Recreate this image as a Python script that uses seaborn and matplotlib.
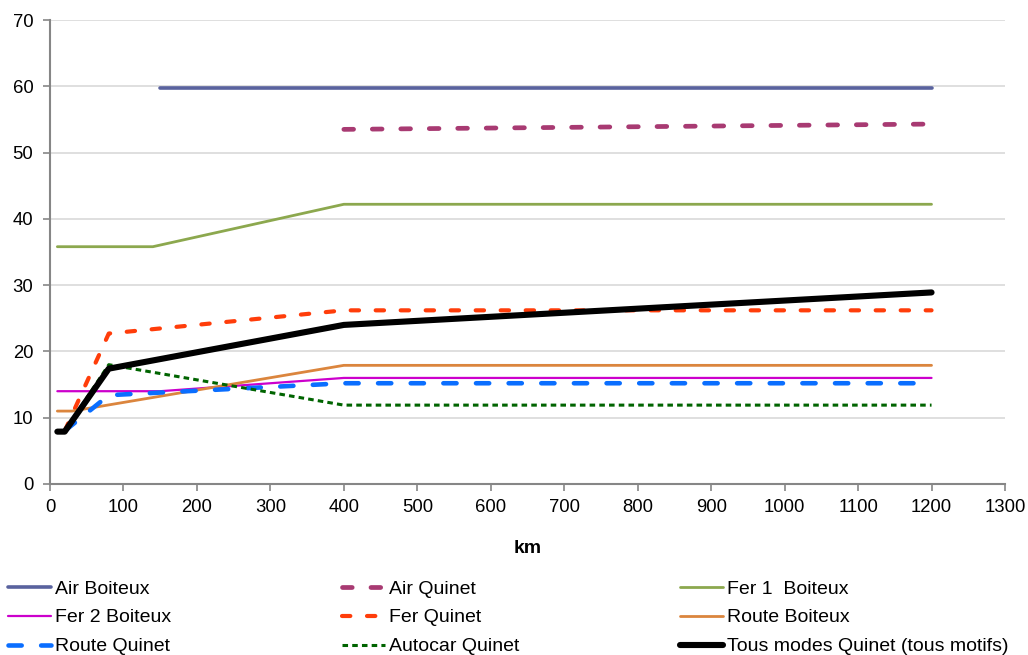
import matplotlib
matplotlib.use("Agg")
import matplotlib.pyplot as plt
import seaborn as sns

# --- dane (km -> wartość) ---
AIR_BOITEUX_X = [150, 400, 1200]
AIR_BOITEUX_Y = [59.8, 59.8, 59.8]
AIR_QUINET_X = [400, 1200]
AIR_QUINET_Y = [53.5, 54.3]
FER1_BOITEUX_X = [10, 140, 400, 1200]
FER1_BOITEUX_Y = [35.8, 35.8, 42.2, 42.2]
FER2_BOITEUX_X = [10, 150, 400, 1200]
FER2_BOITEUX_Y = [14.0, 14.0, 16.0, 16.0]
FER_QUINET_X = [20, 80, 400, 1200]
FER_QUINET_Y = [8.0, 22.7, 26.2, 26.2]
ROUTE_BOITEUX_X = [10, 30, 400, 1200]
ROUTE_BOITEUX_Y = [11.0, 11.0, 17.9, 17.9]
ROUTE_QUINET_X = [20, 80, 400, 1200]
ROUTE_QUINET_Y = [8.0, 13.4, 15.2, 15.2]
AUTOCAR_QUINET_X = [20, 80, 400, 1200]
AUTOCAR_QUINET_Y = [8.0, 18.0, 11.9, 11.9]
TOUS_MODES_X = [10, 20, 80, 400, 1200]
TOUS_MODES_Y = [7.9, 7.9, 17.4, 24.0, 28.9]

LABELS = ["Air Boiteux", "Air Quinet", "Fer 1  Boiteux", "Fer 2 Boiteux", "Fer Quinet",
          "Route Boiteux", "Route Quinet", "Autocar Quinet", "Tous modes Quinet (tous motifs)"]
X_TICKS = list(range(0, 1301, 100))
Y_TICKS = list(range(0, 71, 10))

# --- style ---
sns.set_theme(style="white")
plt.rcParams["font.family"] = ["Liberation Sans", "DejaVu Sans"]
plt.rcParams["text.color"] = "black"
plt.rcParams["axes.labelcolor"] = "black"
plt.rcParams["lines.scale_dashes"] = False

series = [
    (AIR_BOITEUX_X, AIR_BOITEUX_Y, "#59629E", 2.6, None, "round"),
    (AIR_QUINET_X, AIR_QUINET_Y, "#A83A72", 3.4, (7, 13.5), "round"),
    (FER1_BOITEUX_X, FER1_BOITEUX_Y, "#8CA84E", 2.0, None, "round"),
    (FER2_BOITEUX_X, FER2_BOITEUX_Y, "#CC00CC", 1.6, None, "round"),
    (FER_QUINET_X, FER_QUINET_Y, "#FF3D0A", 3.0, (6, 12), "round"),
    (ROUTE_BOITEUX_X, ROUTE_BOITEUX_Y, "#DB853D", 2.0, None, "round"),
    (ROUTE_QUINET_X, ROUTE_QUINET_Y, "#0A6EFF", 3.3, (9.5, 14), "round"),
    (AUTOCAR_QUINET_X, AUTOCAR_QUINET_Y, "#006400", 2.2, (4, 3), "butt"),
    (TOUS_MODES_X, TOUS_MODES_Y, "#000000", 4.4, None, "round"),
]

fig = plt.figure(figsize=(10.28, 6.55), dpi=100)
ax = fig.add_axes([50 / 1028, 1 - 484 / 655, 955 / 1028, 464 / 655])

for (xs, ys, color, lw, dashes, cap), label in zip(series, LABELS):
    sns.lineplot(x=xs, y=ys, ax=ax, color=color, linewidth=lw, label=label,
                 sort=False, estimator=None)
    line = ax.lines[-1]
    line.set_solid_capstyle(cap)
    line.set_dash_capstyle(cap)
    line.set_solid_joinstyle("round")
    if dashes is not None:
        line.set_dashes(dashes)

ax.set_xlim(0, 1300)
ax.set_ylim(0, 70)
ax.set_xticks(X_TICKS)
ax.set_yticks(Y_TICKS)
ax.tick_params(axis="both", labelsize=13.3, colors="#868686", labelcolor="black",
               length=5, width=1.2, direction="out", bottom=True, left=True)
ax.tick_params(axis="y", pad=7)
ax.tick_params(axis="x", pad=6)
ax.grid(axis="y", color="#D9D9D9", linewidth=1.2)
ax.set_axisbelow(True)
for side in ["top", "right"]:
    ax.spines[side].set_visible(False)
for side in ["left", "bottom"]:
    ax.spines[side].set_color("#868686")
    ax.spines[side].set_linewidth(1.5)

ax.set_xlabel("km", fontsize=14, fontweight="bold")
ax.xaxis.set_label_coords(0.5, -0.12)
ax.set_ylabel("")

# legenda: trzy kolumny, każda osobno (kolejność wierszami jak w oryginale)
handles, labels = ax.get_legend_handles_labels()
ax.get_legend().remove()
col_x = [8, 342, 680]
for c, x0 in enumerate(col_x):
    idx = [c, c + 3, c + 6]
    fig.legend([handles[i] for i in idx], [labels[i] for i in idx],
               loc="upper left", bbox_to_anchor=(x0 / 1028, 1 - 580 / 655),
               ncol=1, frameon=False, fontsize=14, borderpad=0, borderaxespad=0,
               handlelength=2.2, handletextpad=0.2, labelspacing=0.58)

fig.savefig("out.png", dpi=100)
plt.close(fig)
